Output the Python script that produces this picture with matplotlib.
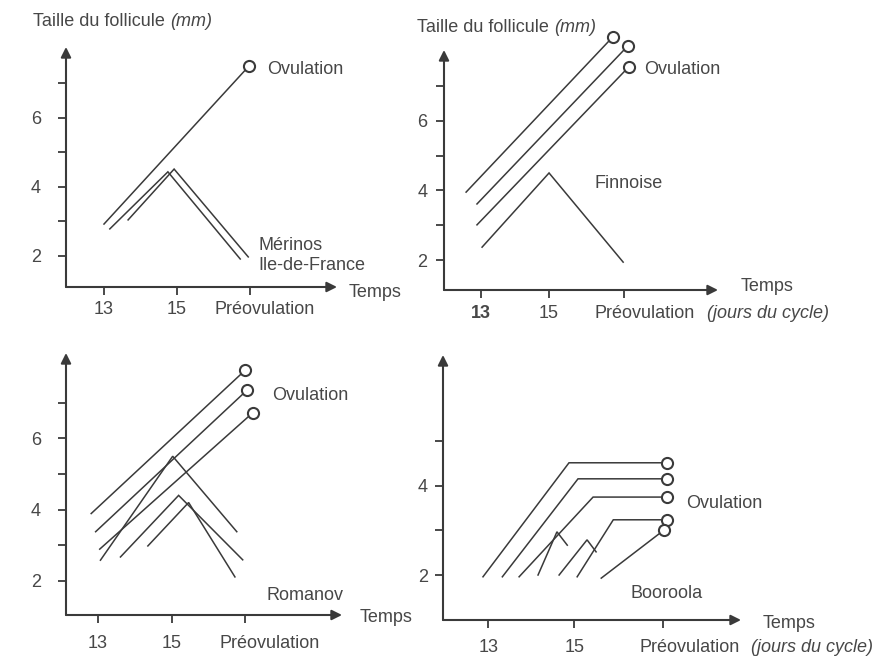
import matplotlib
matplotlib.use("Agg")
import matplotlib.pyplot as plt
from matplotlib.transforms import offset_copy

plt.rcParams['font.family'] = ['Liberation Sans', 'DejaVu Sans']

W, H = 882, 662
INK = '#3a3a3a'
TXT = '#474747'
FS = 13

# follicle size (mm) against day of cycle, one polyline per follicle
merinos_days = [[13.0, 16.97], [13.16, 14.75, 16.73], [13.66, 14.92, 16.95]]
merinos_size = [[2.92, 7.49], [2.78, 4.43, 1.91], [3.04, 4.51, 1.97]]
merinos_ovul = [True, False, False]

finnoise_days = [[12.56, 16.88], [12.88, 17.32], [12.88, 17.35], [13.03, 15.0, 17.18]]
finnoise_size = [[3.95, 8.41], [3.61, 8.15], [3.01, 7.55], [2.37, 4.5, 1.94]]
finnoise_ovul = [True, True, True, False]

romanov_days = [[12.82, 16.97], [12.94, 17.03], [13.05, 17.18],
                [13.07, 15.02, 16.75], [13.61, 15.18, 16.91], [14.35, 15.45, 16.7]]
romanov_size = [[3.89, 7.91], [3.38, 7.36], [2.89, 6.72],
                [2.58, 5.5, 3.38], [2.67, 4.4, 2.59], [2.98, 4.2, 2.11]]
romanov_ovul = [True, True, True, False, False, False]

booroola_days = [[12.88, 14.88, 17.16], [13.33, 15.09, 17.16], [13.72, 15.44, 17.16],
                 [14.16, 14.6, 14.84], [14.65, 15.3, 15.51],
                 [15.07, 15.91, 17.16], [15.63, 17.09]]
booroola_size = [[1.96, 4.52, 4.52], [1.96, 4.16, 4.16], [1.96, 3.75, 3.75],
                 [2.0, 2.97, 2.67], [2.0, 2.79, 2.52],
                 [1.96, 3.24, 3.24], [1.93, 3.01]]
booroola_ovul = [True, True, True, False, False, True, True]

day_ticks = [13, 15]
preov_day = [17.0, 17.2, 16.97, 17.07]
size_ticks = [[2, 3, 4, 5, 6, 7], [2, 3, 4, 5, 6, 7], [2, 3, 4, 5, 6, 7], [2, 3, 4, 5]]


def px(x, y):
    return x / W, 1 - y / H


def label(x, y, s, **kw):
    kw.setdefault('fontsize', FS)
    kw.setdefault('color', TXT)
    kw.setdefault('va', 'center')
    fig.text(*px(x, y), s, **kw)


fig = plt.figure(figsize=(W / 100, H / 100), dpi=100)

# pixel frame of each panel: y-axis x, x-axis y, arrow tip x, arrow tip y
frames = [(66, 287, 337, 47), (444, 290, 718, 50), (66, 615, 342, 353), (443, 620, 741, 355)]
xlims = [(11.96, 19.38), (11.91, 19.97), (12.14, 19.59), (11.95, 18.88)]
ylims = [(1.10, 8.04), (1.14, 8.03), (1.04, 8.40), (0.99, 6.94)]
ypads = [12, 6, 12, 5]
xlab_off = [-23, -23, -28, -27]
preov_left = [-36, -29, -25, -24]

panels = [(merinos_days, merinos_size, merinos_ovul),
          (finnoise_days, finnoise_size, finnoise_ovul),
          (romanov_days, romanov_size, romanov_ovul),
          (booroola_days, booroola_size, booroola_ovul)]

for i, (days, size, ovul) in enumerate(panels):
    x0, y0, x1, y1 = frames[i]
    ax = fig.add_axes([x0 / W, 1 - y0 / H, (x1 - x0) / W, (y0 - y1) / H])
    ax.set_xlim(*xlims[i])
    ax.set_ylim(*ylims[i])
    ax.patch.set_alpha(0)
    for s in ax.spines.values():
        s.set_visible(False)

    # axes drawn as arrows
    arr = dict(arrowstyle='-|>', color=INK, lw=1.5, mutation_scale=15, shrinkA=0, shrinkB=0)
    ax.annotate('', xy=(1, 0), xytext=(0, 0), xycoords='axes fraction', arrowprops=arr)
    ax.annotate('', xy=(0, 1), xytext=(0, 0), xycoords='axes fraction', arrowprops=arr)

    ax.set_xticks(day_ticks + [preov_day[i]])
    ax.set_xticklabels([])
    ax.set_yticks(size_ticks[i])
    ax.set_yticklabels([str(v) if v % 2 == 0 else '' for v in size_ticks[i]],
                       fontsize=FS, color=TXT)
    ax.tick_params(direction='out', length=6, width=1.3, color=INK)
    ax.tick_params(axis='y', pad=ypads[i])

    tr = offset_copy(ax.get_xaxis_transform(), fig=fig, y=xlab_off[i], units='dots')
    for d in day_ticks:
        ax.text(d, 0, str(d), transform=tr, ha='center', va='center', fontsize=FS,
                color=TXT, fontweight='bold' if (i == 1 and d == 13) else 'normal')
    tr_p = offset_copy(ax.get_xaxis_transform(), fig=fig, x=preov_left[i],
                       y=xlab_off[i], units='dots')
    ax.text(preov_day[i], 0, 'Préovulation', transform=tr_p, ha='left', va='center',
            fontsize=FS, color=TXT)

    for d, s, o in zip(days, size, ovul):
        ax.plot(d, s, color=INK, lw=1.1, solid_joinstyle='miter', clip_on=False)
        if o:
            ax.plot(d[-1], s[-1], 'o', ms=8, mfc='white', mec=INK, mew=1.5, clip_on=False)

# titles, axis names and breed labels
label(33, 22, 'Taille du follicule')
label(170, 22, '(mm)', style='italic')
label(417, 27, 'Taille du follicule')
label(554, 27, '(mm)', style='italic')

label(349, 293, 'Temps')
label(741, 286, 'Temps')
label(360, 618, 'Temps')
label(763, 624, 'Temps')

label(707, 313, '(jours du cycle)', style='italic')
label(751, 647, '(jours du cycle)', style='italic')

label(267, 69, 'Ovulation')
label(644, 69, 'Ovulation')
label(272, 396, 'Ovulation')
label(686, 504, 'Ovulation')

label(258, 246, 'Mérinos')
label(258, 266, 'Ile-de-France')
label(594, 184, 'Finnoise')
label(267, 596, 'Romanov')
label(630, 594, 'Booroola')

fig.savefig('out.png', dpi=100, facecolor='white')
